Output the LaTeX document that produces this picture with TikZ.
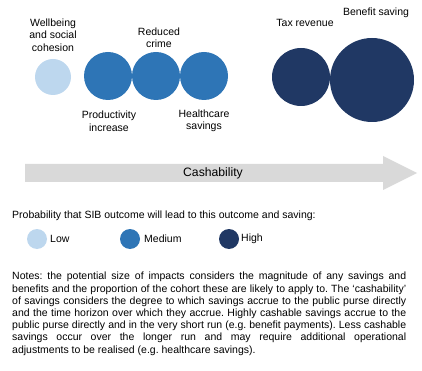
\documentclass[tikz,border=0pt]{standalone}
\usepackage{fontspec}
\setmainfont{Liberation Sans}
\usetikzlibrary{positioning}

\definecolor{lowblue}{HTML}{BDD7EE}
\definecolor{medblue}{HTML}{2E75B6}
\definecolor{highblue}{HTML}{203864}
\definecolor{arrowgrey}{HTML}{D9D9D9}

\begin{document}
\frenchspacing
\begin{tikzpicture}[x=1pt, y=-1pt,
    impact/.style={circle, inner sep=0pt, minimum size=#1},
    lbl/.style={align=center, inner sep=0pt, font=\fontsize{10.5}{12.5}\selectfont},
    keytext/.style={anchor=west, inner sep=0pt, font=\fontsize{10.5}{12}\selectfont}]

\useasboundingbox (0,0) rectangle (422,371);

% outcomes, sized by potential impact
\node[impact=36pt, fill=lowblue]  (wellbeing)    at (53,77)  {};
\node[impact=48pt, fill=medblue]  (productivity) at (108,76) {};
\node[impact=48pt, fill=medblue]  (crime)        at (156,76) {};
\node[impact=48pt, fill=medblue]  (healthcare)   at (204,76) {};
\node[impact=58pt, fill=highblue] (tax)          at (301,77) {};
\node[impact=84pt, fill=highblue] (benefit)      at (372,80) {};

\node[lbl] (wellbeinglbl)    at (53,35)  {Wellbeing\\and social\\cohesion};
\node[lbl] (crimelbl)        at (159,38) {Reduced\\crime};
\node[lbl] (productivitylbl) at (109,121) {Productivity\\increase};
\node[lbl] (healthcarelbl)   at (204,121) {Healthcare\\savings};
\node[lbl] (taxlbl)          at (305,23) {Tax revenue};
\node[lbl] (benefitlbl)      at (376,13) {Benefit saving};

% cashability arrow
\fill[arrowgrey] (25,164) -- (383,164) -- (383,156) -- (417,173)
    -- (383,190) -- (383,182) -- (25,182) -- cycle;
\node[font=\fontsize{12.2}{14}\selectfont, inner sep=0pt] (cash) at (213,173) {Cashability};

% key
\node[keytext] (keytitle) at (12,216) {Probability that SIB outcome will lead to this outcome and saving:};
\node[impact=20pt, fill=lowblue]  (lowkey)  at (37,239)  {};
\node[impact=20pt, fill=medblue]  (medkey)  at (130,239) {};
\node[impact=20pt, fill=highblue] (highkey) at (229,239) {};
\node[keytext] (lowlbl)  at (50,239)  {Low};
\node[keytext] (medlbl)  at (144,239) {Medium};
\node[keytext] (highlbl) at (241,239) {High};

% notes
\node[anchor=north west, inner sep=0pt, text width=394pt, align=justify,
      font=\fontsize{10.5}{12.2}\selectfont] (notes) at (12,272)
  {Notes: the potential size of impacts considers the magnitude of any savings and\linebreak
   benefits and the proportion of the cohort these are likely to apply to. The `cashability'\linebreak
   of savings considers the degree to which savings accrue to the public purse directly\linebreak
   and the time horizon over which they accrue. Highly cashable savings accrue to the\linebreak
   public purse directly and in the very short run (e.g. benefit payments). Less cashable\linebreak
   savings occur over the longer run and may require additional operational\linebreak
   adjustments to be realised (e.g. healthcare savings).};

\end{tikzpicture}
\end{document}
